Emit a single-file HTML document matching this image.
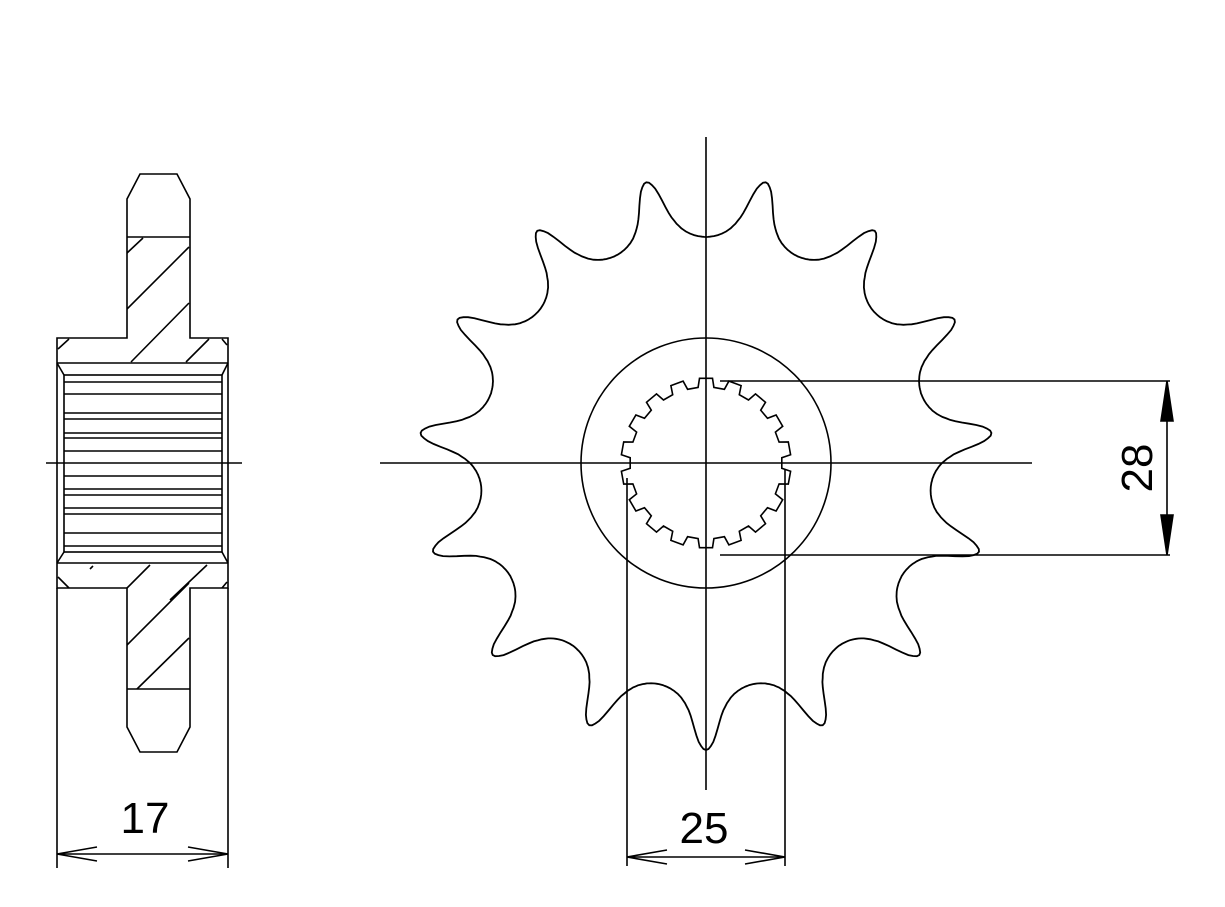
<!DOCTYPE html>
<html><head><meta charset="utf-8"><style>
html,body{margin:0;padding:0;background:#fff;width:1225px;height:907px;overflow:hidden}
svg{display:block}
text{font-family:"Liberation Sans",sans-serif;font-size:44px;fill:#000}
</style></head><body>
<svg id="s" width="1225" height="907" viewBox="0 0 1225 907" fill="none" stroke="#000" stroke-width="1.6">
<line x1="380" y1="463" x2="1032" y2="463"/>
<line x1="706" y1="137" x2="706" y2="790"/>
<line x1="46" y1="463" x2="242" y2="463"/>
<circle cx="706" cy="463" r="125"/>
<path id="sprocket" stroke-width="1.8"/>
<path id="spline"/>
<line x1="720" y1="381" x2="1170" y2="381"/>
<line x1="720" y1="555" x2="1170" y2="555"/>
<line x1="1167" y1="381" x2="1167" y2="555"/>
<polygon points="1167,381 1161,421 1173,421" fill="#000"/>
<polygon points="1167,555 1161,515 1173,515" fill="#000"/>
<text x="1137" y="468" text-anchor="middle" transform="rotate(-90 1137 468)" dy="15" stroke="none">28</text>
<line x1="627" y1="478" x2="627" y2="866"/>
<line x1="785" y1="470" x2="785" y2="866"/>
<line x1="627" y1="857" x2="785" y2="857"/>
<polyline points="667,850 627,857 667,864"/>
<polyline points="745,850 785,857 745,864"/>
<text x="704" y="843" text-anchor="middle" stroke="none">25</text>
<path d="M140,174 L177,174 L190,199 L190,338 L228,338 L228,588 L190,588 L190,727 L177,752 L140,752 L127,727 L127,588 L57,588 L57,338 L127,338 L127,199 Z"/>
<line x1="127" y1="237" x2="190" y2="237"/>
<line x1="127" y1="689" x2="190" y2="689"/>
<line x1="57" y1="363" x2="228" y2="363"/>
<line x1="57" y1="563" x2="228" y2="563"/>
<rect x="64" y="375" width="158" height="177"/>
<line x1="57" y1="363" x2="64" y2="375"/><line x1="228" y1="363" x2="222" y2="375"/>
<line x1="57" y1="563" x2="64" y2="552"/><line x1="228" y1="563" x2="222" y2="552"/>
<g id="sl"></g>
<line x1="127" y1="253" x2="143" y2="238"/>
<line x1="127" y1="309" x2="189" y2="247"/>
<line x1="131" y1="362" x2="189" y2="303"/>
<line x1="186" y1="362" x2="209" y2="339"/>
<line x1="58" y1="349" x2="69" y2="339"/>
<line x1="222" y1="339" x2="227" y2="345"/>
<line x1="90" y1="569" x2="93" y2="566"/>
<line x1="127" y1="588" x2="150" y2="565"/>
<line x1="170" y1="600" x2="207" y2="565"/>
<line x1="127" y1="645" x2="189" y2="583"/>
<line x1="137" y1="689" x2="189" y2="638"/>
<line x1="58" y1="577" x2="69" y2="588"/>
<line x1="222" y1="588" x2="227" y2="582"/>
<line x1="57" y1="588" x2="57" y2="868"/>
<line x1="228" y1="588" x2="228" y2="868"/>
<line x1="57" y1="854" x2="228" y2="854"/>
<polyline points="97,847 57,854 97,861"/>
<polyline points="188,847 228,854 188,861"/>
<text x="145" y="833" text-anchor="middle" stroke="none">17</text>
</svg>
<script>
(function(){
var cx=706,cy=463,d2r=Math.PI/180;
var tb=[[0,287],[0.5,286],[1,283],[1.5,279],[2,273],[2.5,266],[3,259],[3.5,253],[4,248],[5,241],[6,236],[7,232.5],[8,230],[9,228.2],[10,227],[11,226.3],[12,226]];
function R(p){p=Math.abs(p);for(var i=1;i<tb.length;i++){if(p<=tb[i][0]){var a=tb[i-1],b=tb[i],t=(p-a[0])/(b[0]-a[0]);return a[1]+(b[1]-a[1])*t;}}return 226;}
var d="";
for(var i=0;i<=720;i++){
 var ang=90+i*0.5; var ph=((i*0.5)%24); if(ph>12)ph=ph-24;
 var r=R(ph); var a=ang*d2r;
 d+=(i?" L":"M")+(cx+r*Math.cos(a)).toFixed(1)+","+(cy+r*Math.sin(a)).toFixed(1);
}
d+="Z";
document.getElementById("sprocket").setAttribute("d",d);
var M=18,sd="",ro=85,ri=76;
function P(r,a){return [cx+r*Math.cos(a),cy+r*Math.sin(a)];}
for(var k=0;k<M;k++){
 var a=(-90+360/M*k)*d2r, w=360/M*d2r;
 var q=[P(ro,a-w*0.22),P(ro,a+w*0.22),P(ri,a+w*0.3),P(ri,a+w*0.7),P(ro,a+w*0.78)];
 q.forEach(function(p,i){sd+=(k==0&&i==0?"M":" L")+p[0].toFixed(1)+","+p[1].toFixed(1);});
}
sd+="Z";
document.getElementById("spline").setAttribute("d",sd);
var ys=[382,394,413,419,433,438,451,476,489,495,508,514,533,546],g=document.getElementById("sl"),h="";
ys.forEach(function(y){h+='<line x1="64" y1="'+y+'" x2="222" y2="'+y+'"/>';});
g.innerHTML=h;
})();
</script>
</body></html>
